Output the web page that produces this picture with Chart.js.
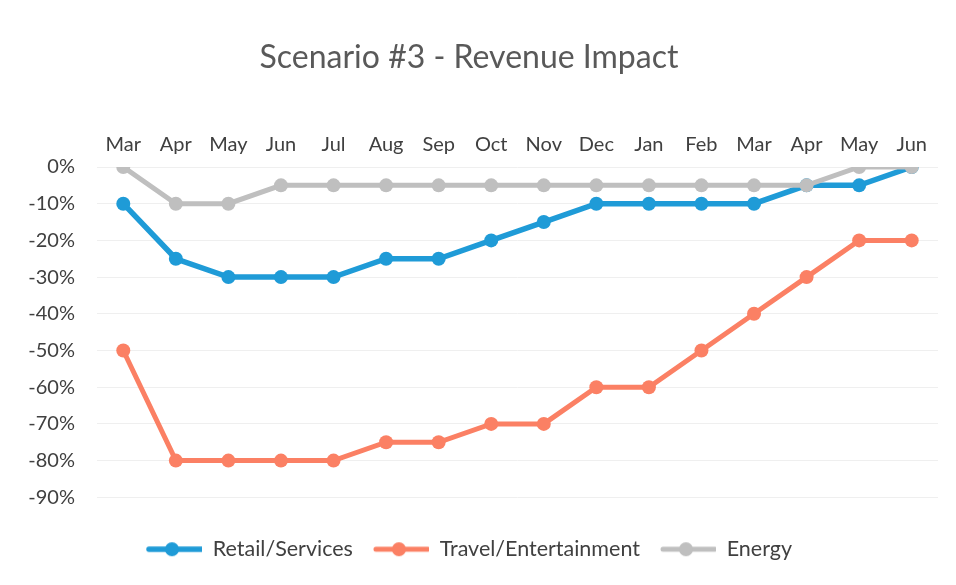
<!DOCTYPE html>
<html>
<head>
<meta charset="utf-8">
<script src="https://cdn.jsdelivr.net/npm/chart.js@4/dist/chart.umd.min.js"></script>
<style>
html,body{margin:0;padding:0;background:#fff;}
#wrap{width:956px;height:585px;position:relative;}
</style>
</head>
<body>
<div id="wrap"><canvas id="c" width="956" height="585"></canvas></div>
<script>
const categories = ["Mar","Apr","May","Jun","Jul","Aug","Sep","Oct","Nov","Dec","Jan","Feb","Mar","Apr","May","Jun"];
const retailServices = [-10,-25,-30,-30,-30,-25,-25,-20,-15,-10,-10,-10,-10,-5,-5,0];
const travelEntertainment = [-50,-80,-80,-80,-80,-75,-75,-70,-70,-60,-60,-50,-40,-30,-20,-20];
const energy = [0,-10,-10,-5,-5,-5,-5,-5,-5,-5,-5,-5,-5,-5,0,0];
const seriesNames = ["Retail/Services","Travel/Entertainment","Energy"];
const yTicks = [0,-10,-20,-30,-40,-50,-60,-70,-80,-90];

const colors = ["#1f9bd7","#fb8064","#bfbfbf"];
const FONT = "Lato, 'Open Sans', sans-serif";

function legendSymbol(color, lw){
  const cv = document.createElement('canvas');
  cv.width = 56; cv.height = 18;
  const g = cv.getContext('2d');
  g.strokeStyle = color; g.lineWidth = lw; g.lineCap = 'round';
  g.beginPath(); g.moveTo(3,9); g.lineTo(55,9); g.stroke();
  g.fillStyle = color;
  g.beginPath(); g.arc(26,9,7,0,Math.PI*2); g.fill();
  return cv;
}
const symbols = [legendSymbol(colors[0],5.5), legendSymbol(colors[1],5), legendSymbol(colors[2],5)];

const dataArrays = [retailServices, travelEntertainment, energy];
const datasets = dataArrays.map((d,i)=>({
  label: seriesNames[i],
  data: d,
  borderColor: colors[i],
  backgroundColor: colors[i],
  borderWidth: i===0 ? 5.5 : 5,
  pointRadius: 7,
  pointHoverRadius: 7,
  pointBorderWidth: 0,
  pointBackgroundColor: colors[i],
  tension: 0,
  order: i===2 ? 0 : i+1
}));

new Chart(document.getElementById('c'), {
  type: 'line',
  data: { labels: categories, datasets: datasets },
  options: {
    responsive: false,
    animation: false,
    events: [],
    layout: { padding: { left: 0, right: 18, top: 0, bottom: 15 } },
    plugins: {
      title: {
        display: true,
        text: 'Scenario #3 - Revenue Impact',
        color: '#595959',
        font: { family: FONT, size: 32, weight: 'normal' },
        padding: { top: 38, bottom: 20 }
      },
      legend: {
        display: true,
        position: 'bottom',
        title: { display: true, text: '', font: { size: 1 }, padding: { top: 0, bottom: 20 } },
        labels: {
          usePointStyle: true,
          pointStyleWidth: 56,
          padding: 20,
          color: '#404040',
          font: { family: FONT, size: 21.5 },
          generateLabels: (chart) => chart.data.datasets.map((ds, i) => ({
            text: ds.label,
            pointStyle: symbols[i],
            fillStyle: colors[i],
            strokeStyle: colors[i],
            lineWidth: 0,
            hidden: false,
            datasetIndex: i,
            fontColor: '#404040'
          }))
        }
      },
      tooltip: { enabled: false }
    },
    scales: {
      x: {
        position: 'top',
        offset: true,
        grid: { display: false, drawTicks: false },
        border: { display: false },
        ticks: { color: '#404040', font: { family: FONT, size: 20 }, padding: 10, maxRotation: 0, autoSkip: false },
        afterFit: (s) => { s.height = 70.6; }
      },
      y: {
        min: -90, max: 0,
        afterBuildTicks: (s) => { s.ticks = yTicks.map(v => ({ value: v })); },
        grid: { color: '#efefef', lineWidth: 1, drawTicks: false },
        border: { display: false },
        ticks: { color: '#404040', font: { family: FONT, size: 20 }, padding: 22, callback: (v) => v + '%' },
        afterFit: (s) => { s.width = 97; }
      }
    }
  }
});
</script>
</body>
</html>
